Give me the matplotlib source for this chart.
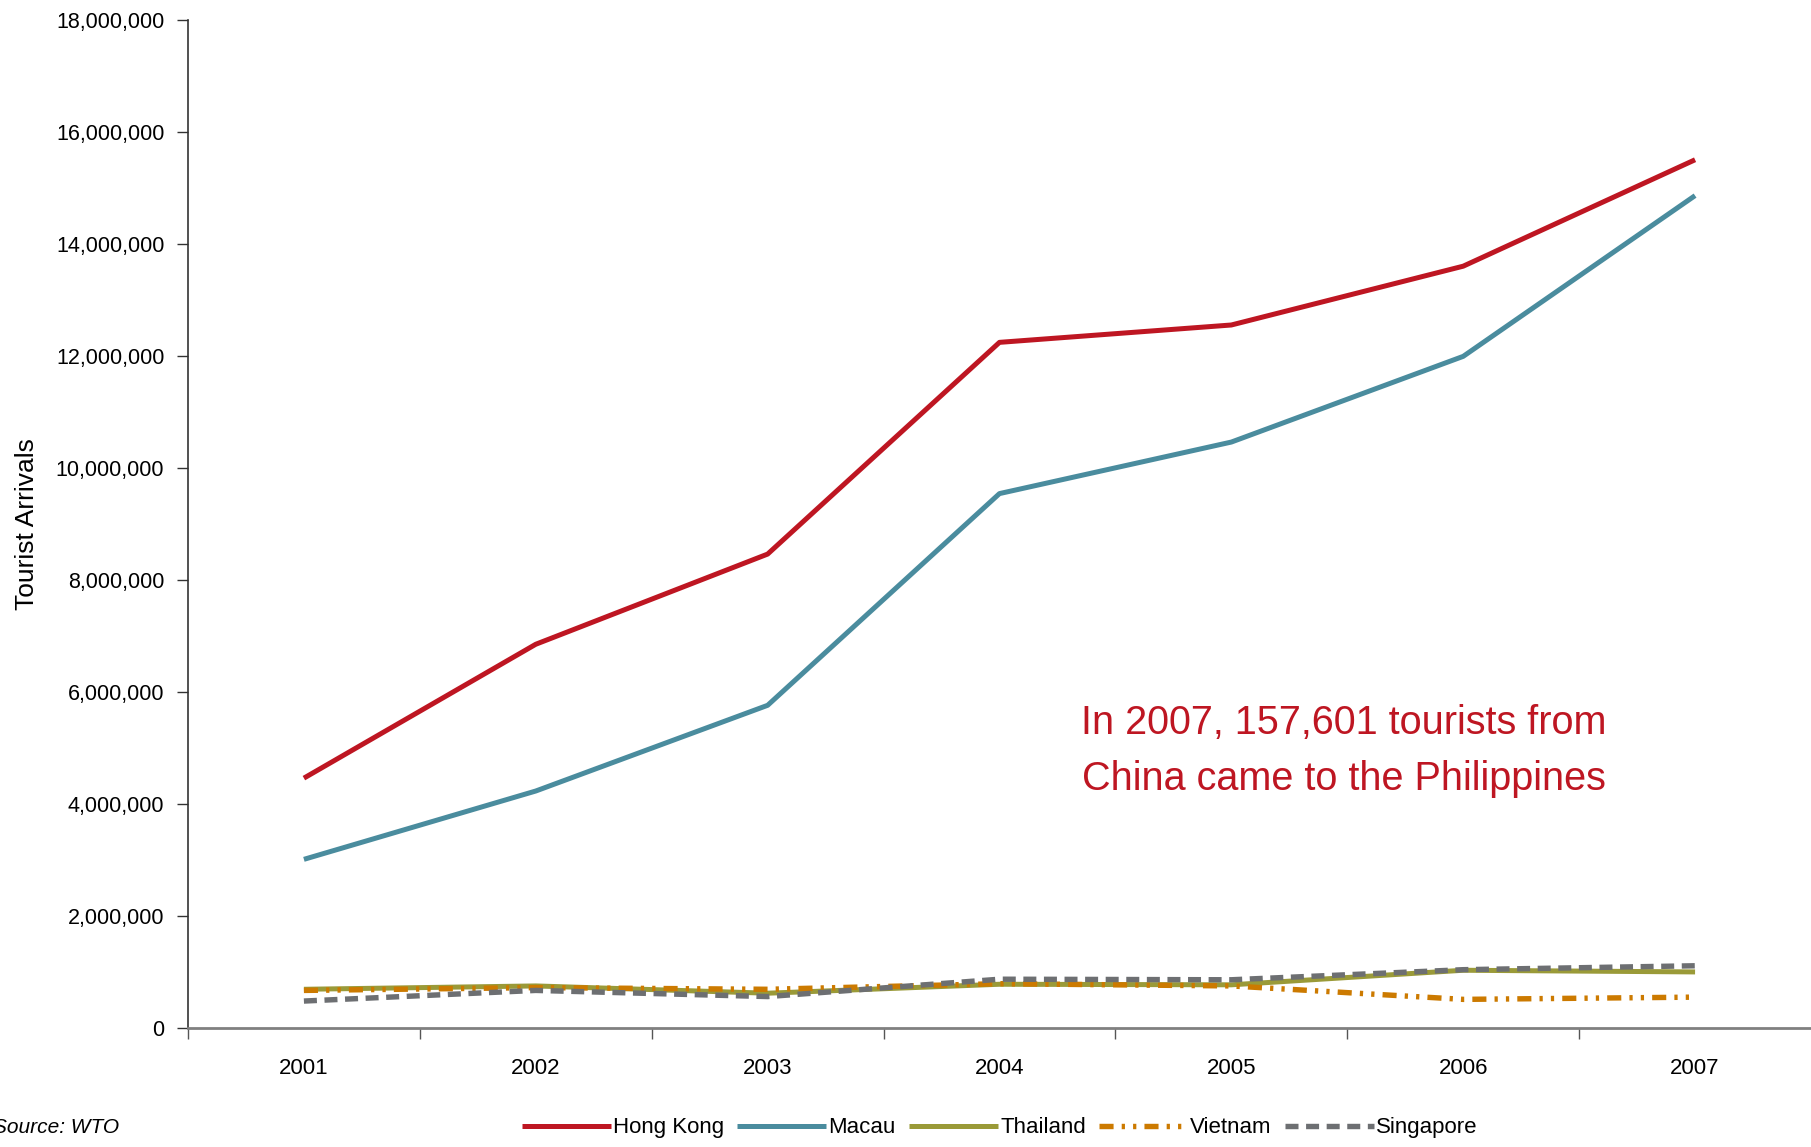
import matplotlib
matplotlib.use("Agg")
import matplotlib.pyplot as plt
from matplotlib.ticker import FuncFormatter, FixedLocator

plt.rcParams["font.family"] = ["Liberation Sans", "DejaVu Sans"]

years = ["2001", "2002", "2003", "2004", "2005", "2006", "2007"]
hong_kong = [4460000, 6850000, 8460000, 12240000, 12550000, 13600000, 15500000]
macau = [3010000, 4230000, 5760000, 9540000, 10460000, 11990000, 14860000]
thailand = [690000, 750000, 620000, 780000, 770000, 1030000, 1000000]
vietnam = [670000, 720000, 690000, 790000, 750000, 510000, 550000]
singapore = [480000, 670000, 560000, 870000, 860000, 1040000, 1110000]

series = [
    ("Hong Kong", hong_kong, "#BE1622", "-"),
    ("Macau", macau, "#4A8C9E", "-"),
    ("Thailand", thailand, "#9A9A38", "-"),
    ("Vietnam", vietnam, "#CC7A00", (0, (2.6, 1.5, 0.6, 1.5, 0.6, 1.5))),
    ("Singapore", singapore, "#6D6F72", (0, (2.4, 1.4))),
]

fig = plt.figure(figsize=(18.11, 11.47), dpi=100)
ax = fig.add_axes([0.1038, 0.1038, 0.8962, 0.879])

x = list(range(len(years)))
for name, vals, color, ls in series:
    lw = 3.6 if ls == "-" else 3.9
    ax.plot(x, vals, color=color, linestyle=ls, linewidth=lw, label=name,
            solid_capstyle="butt", dash_capstyle="butt")

ax.set_xlim(-0.5, 6.5)
ax.set_ylim(0, 18000000)
ax.set_yticks(range(0, 18000001, 2000000))
ax.yaxis.set_major_formatter(FuncFormatter(lambda v, p: f"{int(v):,}"))
ax.set_xticks(x)
ax.set_xticklabels(years)
ax.xaxis.set_minor_locator(FixedLocator([i - 0.5 for i in range(7)]))
ax.tick_params(axis="x", which="major", length=0, pad=22, labelsize=16)
ax.tick_params(axis="x", which="minor", length=8, width=1, color="#555555", direction="out")
ax.tick_params(axis="y", length=8, width=1, color="#333333", pad=9, labelsize=15.5)

for s in ["top", "right"]:
    ax.spines[s].set_visible(False)
ax.spines["left"].set_color("#333333")
ax.spines["left"].set_linewidth(1.2)
ax.spines["bottom"].set_color("#808080")
ax.spines["bottom"].set_linewidth(2)

ax.set_ylabel("Tourist Arrivals", fontsize=19, labelpad=12)

ax.text(0.712, 0.275, "In 2007, 157,601 tourists from\nChina came to the Philippines",
        transform=ax.transAxes, ha="center", va="center", fontsize=28.5,
        color="#BE1622", linespacing=1.6)

fig.text(-0.004, 0.0166, "Source: WTO", fontsize=15, style="italic", va="center")

fig.legend(loc="center", bbox_to_anchor=(0.552, 0.0166), ncol=5, frameon=False,
           fontsize=16, handlelength=4.0, handletextpad=0.1, columnspacing=0.6)

fig.savefig("out.png", dpi=100)
